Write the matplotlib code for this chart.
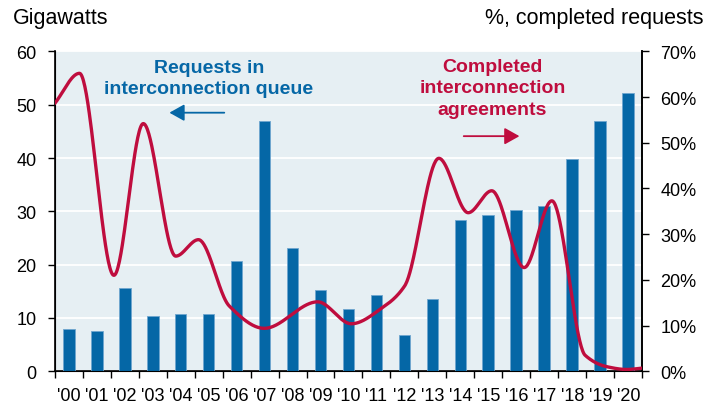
import matplotlib
matplotlib.use("Agg")
import matplotlib.pyplot as plt
import numpy as np

plt.rcParams['font.family'] = ['Liberation Sans', 'DejaVu Sans']

# Bars: requests in interconnection queue (GW)
years = ["'00", "'01", "'02", "'03", "'04", "'05", "'06", "'07", "'08", "'09", "'10",
         "'11", "'12", "'13", "'14", "'15", "'16", "'17", "'18", "'19", "'20"]
queue_gw = [8.0, 7.6, 15.7, 10.4, 10.7, 10.7, 20.7, 47.0, 23.2, 15.2, 11.7,
            14.4, 6.8, 13.5, 28.3, 29.3, 30.3, 31.0, 39.9, 46.9, 52.2]

# Line: completed requests (%), position along the category axis
line_pos = [0.0, 0.885, 2.115, 3.165, 4.326, 5.136, 6.237, 7.49, 9.40, 10.6,
            11.73, 12.51, 13.73, 14.78, 15.62, 16.78, 17.77, 18.96, 19.74, 20.45, 21.0]
completed_pct = [58.6, 65.2, 21.0, 54.2, 25.2, 28.8, 14.3, 9.4, 15.2, 10.4,
                 14.0, 18.7, 46.6, 34.7, 39.5, 22.7, 37.3, 3.5, 1.0, 0.4, 0.7]

BLUE = '#0567a6'
RED = '#bf0d3e'
BG = '#e6eff3'


def pchip(x, y, xs):
    # shape-preserving cubic, similar to the smoothed line of the original
    x = np.asarray(x, float)
    y = np.asarray(y, float)
    h = np.diff(x)
    d = np.diff(y) / h
    m = np.zeros_like(y)
    for i in range(1, len(y) - 1):
        if d[i - 1] * d[i] > 0:
            w1 = 2 * h[i] + h[i - 1]
            w2 = h[i] + 2 * h[i - 1]
            m[i] = (w1 + w2) / (w1 / d[i - 1] + w2 / d[i])
    m[0] = d[0]
    m[-1] = d[-1]
    k = np.clip(np.searchsorted(x, xs) - 1, 0, len(h) - 1)
    t = (xs - x[k]) / h[k]
    h00 = 2 * t**3 - 3 * t**2 + 1
    h10 = t**3 - 2 * t**2 + t
    h01 = -2 * t**3 + 3 * t**2
    h11 = t**3 - t**2
    return h00 * y[k] + h10 * h[k] * m[k] + h01 * y[k + 1] + h11 * h[k] * m[k + 1]


fig = plt.figure(figsize=(7.2, 4.06), dpi=100)
ax = fig.add_axes([0.076, 0.083, 0.816, 0.788])
ax.set_facecolor(BG)

n = len(years)
centers = np.arange(n) + 0.5
ax.bar(centers, queue_gw, width=0.42, color=BLUE, edgecolor='#6fa6cf',
       linewidth=0.6, zorder=3)

ax.set_xlim(0, n)
ax.set_ylim(0, 60)
ax.set_yticks(range(0, 61, 10))
ax.yaxis.grid(True, color='white', linewidth=1.3, zorder=0)
ax.set_axisbelow(True)

ax.set_xticks(centers)
ax.set_xticklabels(years, fontsize=13)
ax.set_xticks(np.arange(n + 1), minor=True)
ax.tick_params(axis='x', which='major', length=0, pad=11)
ax.tick_params(axis='x', which='minor', length=5, width=1, direction='out')
ax.tick_params(axis='y', labelsize=13, length=5, width=1, direction='out', pad=8)

ax.spines['top'].set_visible(False)
for s in ['left', 'bottom', 'right']:
    ax.spines[s].set_linewidth(1.2)

ax2 = ax.twinx()
ax2.set_ylim(0, 70)
ax2.set_yticks(range(0, 71, 10))
ax2.set_yticklabels([f'{v}%' for v in range(0, 71, 10)])
ax2.tick_params(axis='y', labelsize=13, length=5, width=1, direction='out', pad=8)
ax2.spines['top'].set_visible(False)
ax2.spines['right'].set_linewidth(1.2)

xs = np.linspace(0, n, 800)
ax2.plot(xs, pchip(line_pos, completed_pct, xs), color=RED, linewidth=2.4,
         zorder=4, solid_capstyle='round')

# annotations, one text per line to control spacing
for txt, yv in [('Requests in', 56.1), ('interconnection queue', 52.1)]:
    ax.text(5.51, yv, txt, color=BLUE, fontsize=14, fontweight='bold',
            ha='center', va='baseline')
ax.annotate('', xy=(4.0, 48.5), xytext=(6.16, 48.5),
            arrowprops=dict(arrowstyle='-|>,head_length=0.5,head_width=0.28',
                            color=BLUE, lw=1.3, mutation_scale=18))
for txt, yv in [('Completed', 56.4), ('interconnection', 52.3), ('agreements', 48.2)]:
    ax.text(15.65, yv, txt, color=RED, fontsize=14, fontweight='bold',
            ha='center', va='baseline')
ax.annotate('', xy=(16.71, 44.1), xytext=(14.52, 44.1),
            arrowprops=dict(arrowstyle='-|>,head_length=0.5,head_width=0.28',
                            color=RED, lw=1.3, mutation_scale=18))

fig.text(0.018, 0.941, 'Gigawatts', fontsize=15.5, ha='left', va='baseline')
fig.text(0.977, 0.941, '%, completed requests', fontsize=15.5, ha='right', va='baseline')

fig.savefig('out.png', dpi=100)
